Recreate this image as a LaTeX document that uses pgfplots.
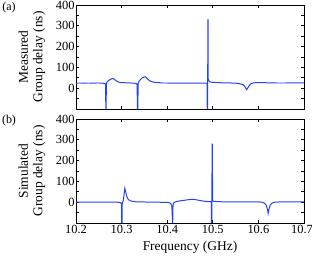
\documentclass[border=0pt]{standalone}
\usepackage{pgfplots}
\pgfplotsset{compat=1.18}
\usepackage{fontspec}
\setmainfont{Liberation Serif}
\definecolor{lineblue}{RGB}{35,65,245}
\begin{document}
\fontsize{12.5}{14}\selectfont
\begin{tikzpicture}
\useasboundingbox (0,0) rectangle (312bp,256bp);
\pgfplotsset{
  gd/.style={
    scale only axis, width=228bp, height=104bp,
    xmin=10.2, xmax=10.7, ymin=-100, ymax=400,
    xtick={10.2,10.3,10.4,10.5,10.6,10.7},
    ytick={0,100,200,300,400},
    minor ytick={-50,50,150,250,350},
    tick align=inside,
    major tick length=2.8bp, minor tick length=2.8bp,
    axis line style={line width=0.8pt},
    every tick/.style={black, line width=0.7pt},
    tick label style={font=\fontsize{12.5}{14}\selectfont},
    /pgf/number format/assume math mode=true,
    yticklabel style={inner sep=1.2pt},
    xticklabel style={inner sep=2pt},
  },
}
\begin{axis}[gd, at={(76bp,147bp)}, anchor=south west, xticklabels={}]
\addplot[lineblue, line width=1pt] coordinates {
(10.200,24) (10.205,25) (10.210,25) (10.215,24) (10.220,24) (10.225,25) (10.230,25) (10.235,24)
(10.240,24) (10.245,25) (10.250,25) (10.255,24) (10.258,24) (10.262,23) (10.264,21) (10.265,15)
(10.2655,-150) (10.266,-150) (10.2665,20) (10.268,30) (10.271,36) (10.275,42) (10.279,46) (10.282,46)
(10.285,41) (10.289,34) (10.294,29) (10.300,27) (10.310,26) (10.320,25) (10.328,24) (10.332,22)
(10.334,18) (10.335,-150) (10.3355,-150) (10.3362,22) (10.338,32) (10.341,41) (10.345,49) (10.349,54)
(10.352,55) (10.355,49) (10.359,40) (10.364,33) (10.370,29) (10.380,27) (10.390,25) (10.400,25)
(10.410,24) (10.420,25) (10.430,24) (10.440,25) (10.450,24) (10.460,25) (10.470,24) (10.480,25)
(10.485,24) (10.4875,23) (10.4880,-150) (10.4885,-150) (10.4888,24) (10.4892,328) (10.4896,328) (10.490,45)
(10.4915,35) (10.494,30) (10.500,28) (10.510,27) (10.520,26) (10.530,26) (10.540,25) (10.550,24)
(10.555,23) (10.560,21) (10.565,18) (10.569,12) (10.572,2) (10.574,-7) (10.576,-2) (10.579,10)
(10.583,20) (10.588,25) (10.595,27) (10.605,27) (10.620,26) (10.640,25) (10.660,25) (10.680,26) (10.700,25)
};
\end{axis}
\begin{axis}[gd, at={(76bp,33bp)}, anchor=south west,
  xticklabels={10.2,10.3,10.4,10.5,10.6,\kern-4bp 10.7}]
\addplot[lineblue, line width=1pt] coordinates {
(10.200,0) (10.250,0) (10.290,0) (10.296,-1) (10.299,-4) (10.3000,-15) (10.3004,-150) (10.3008,-150)
(10.3012,-10) (10.302,-2) (10.304,10) (10.3055,40) (10.307,66) (10.3085,55) (10.310,38) (10.312,24)
(10.315,12) (10.320,6) (10.330,2) (10.350,1) (10.380,0) (10.400,-1) (10.405,-3) (10.408,-7)
(10.410,-18) (10.411,-50) (10.4115,-150) (10.412,-150) (10.4123,-40) (10.413,-10) (10.415,-1) (10.420,3)
(10.430,7) (10.440,10) (10.450,13) (10.455,13.5) (10.460,13) (10.470,9) (10.480,5) (10.490,3)
(10.495,3) (10.4968,4) (10.4972,-150) (10.4976,-150) (10.498,6) (10.4985,279) (10.4991,279) (10.4995,8)
(10.502,4) (10.520,2) (10.560,2) (10.600,1.5) (10.608,0) (10.613,-4) (10.617,-14) (10.620,-35)
(10.6214,-54) (10.623,-35) (10.626,-14) (10.630,-4) (10.636,0) (10.650,1.5) (10.700,1.5)
};
\end{axis}
\begin{scope}[every node/.style={font=\fontsize{13.5}{14.5}\selectfont}]
\node[rotate=90, align=center, inner sep=0pt] at (32bp,199bp) {Measured\\Group delay (ns)};
\node[rotate=90, align=center, inner sep=0pt] at (32bp,85bp) {Simulated\\Group delay (ns)};
\node at (190bp,9bp) {Frequency (GHz)};
\end{scope}
\node[font=\fontsize{12}{13}\selectfont] at (9bp,248bp) {(a)};
\node[font=\fontsize{12}{13}\selectfont] at (9bp,135bp) {(b)};
\end{tikzpicture}
\end{document}
